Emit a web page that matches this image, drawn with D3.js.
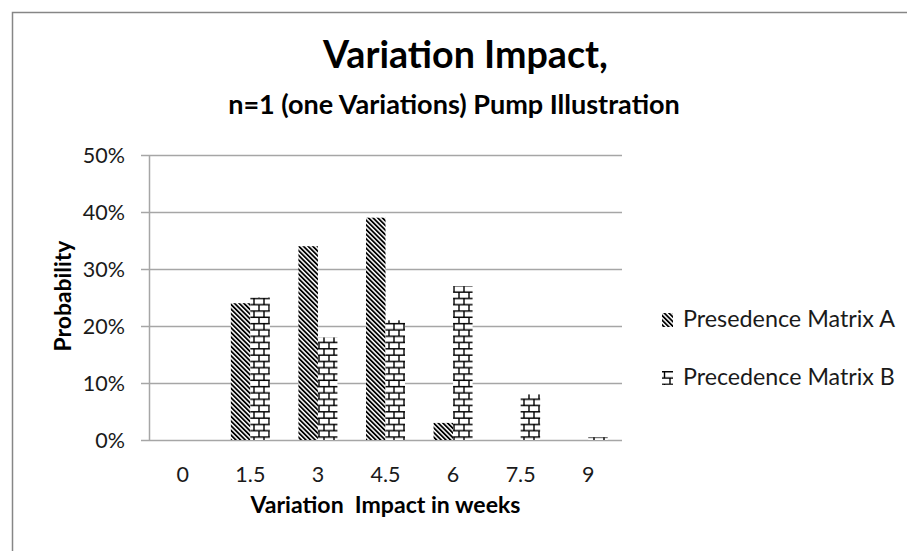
<!DOCTYPE html>
<html>
<head>
<meta charset="utf-8">
<script src="https://cdn.jsdelivr.net/npm/d3@7"></script>
<style>
  html, body { margin: 0; padding: 0; background: #fff; }
  svg { display: block; }
  text { font-family: Lato, "Open Sans", "DejaVu Sans", sans-serif; }
</style>
</head>
<body>
<svg id="chart" width="907" height="551"></svg>
<script>
const categories = ["0", "1.5", "3", "4.5", "6", "7.5", "9"];
const seriesNames = ["Presedence Matrix A", "Precedence Matrix B"];
const matrixA = [0, 0.24, 0.34, 0.39, 0.03, 0, 0];
const matrixB = [0, 0.25, 0.18, 0.21, 0.27, 0.08, 0.005];
const yTicks = [0, 0.1, 0.2, 0.3, 0.4, 0.5];
const titleText = "Variation Impact,";
const subtitleText = "n=1 (one Variations) Pump Illustration";
const xTitle = "Variation  Impact in weeks";
const yTitle = "Probability";

const svg = d3.select("#chart");
const m = { left: 149, right: 622, top: 155, bottom: 440 };

// patterns
const defs = svg.append("defs");
const pA = defs.append("pattern").attr("id", "patA").attr("patternUnits", "userSpaceOnUse")
  .attr("width", 3.3).attr("height", 3.3).attr("patternTransform", "rotate(-45)");
pA.append("rect").attr("width", 3.3).attr("height", 3.3).attr("fill", "#fff");
pA.append("rect").attr("width", 1.8).attr("height", 3.3).attr("fill", "#000");

const bw = 10, bh = 6.3;
function brickPattern(id, px, py, w, vx) {
  const p = defs.append("pattern").attr("id", id).attr("patternUnits", "userSpaceOnUse")
    .attr("width", w).attr("height", bh * 2).attr("x", px).attr("y", py);
  p.append("rect").attr("width", w).attr("height", bh * 2).attr("fill", "#fff");
  const v2 = (vx + w / 2) % w;
  p.append("path").attr("d",
    `M0,0.7H${w}M0,${bh + 0.7}H${w}M${vx},0.7V${bh + 0.7}M${v2},${bh + 0.7}V${2 * bh + 0.7}`)
    .attr("stroke", "#000").attr("stroke-width", 1.4).attr("fill", "none");
}
// bars: mortar lines at y = 437 - k*bh
brickPattern("patB", 3, 436.3 - bh * 40, bw, 1);

// frame
svg.append("rect").attr("x", 12.5).attr("y", 12.5).attr("width", 1000).attr("height", 1000)
  .attr("fill", "#fff").attr("stroke", "#868686").attr("stroke-width", 1.5);

const x0 = d3.scaleBand().domain(categories).range([m.left, m.right]).padding(0);
const groupW = 39;
const x1 = d3.scaleBand().domain(seriesNames)
  .range([(x0.bandwidth() - groupW) / 2, (x0.bandwidth() + groupW) / 2]).padding(0);
const y = d3.scaleLinear().domain([0, 0.5]).range([m.bottom, m.top]);

// gridlines
svg.append("g").selectAll("line").data(yTicks).join("line")
  .attr("x1", m.left - 8).attr("x2", m.right)
  .attr("y1", d => Math.round(y(d)) + 0.5).attr("y2", d => Math.round(y(d)) + 0.5)
  .attr("stroke", "#a6a6a6").attr("stroke-width", 1.5);

// y axis line
svg.append("line").attr("x1", m.left + 0.5).attr("x2", m.left + 0.5)
  .attr("y1", m.top).attr("y2", m.bottom).attr("stroke", "#a6a6a6").attr("stroke-width", 1.5);

// y tick labels
const yAxis = d3.axisLeft(y).tickValues(yTicks).tickFormat(d3.format(".0%")).tickSize(0).tickPadding(24);
const gy = svg.append("g").attr("transform", `translate(${m.left},0)`).call(yAxis);
gy.select(".domain").remove();
gy.selectAll("text").attr("font-size", 21.5).attr("fill", "#1a1a1a")
  .attr("font-family", "Lato, 'Open Sans', sans-serif").attr("dy", "0.36em");

// x tick labels
const xAxis = d3.axisBottom(x0).tickSize(0).tickPadding(27);
const gx = svg.append("g").attr("transform", `translate(0,${m.bottom})`).call(xAxis);
gx.select(".domain").remove();
gx.selectAll("text").attr("font-size", 21.5).attr("fill", "#1a1a1a")
  .attr("font-family", "Lato, 'Open Sans', sans-serif");

// bars
const series = [
  { name: seriesNames[0], values: matrixA, fill: "url(#patA)" },
  { name: seriesNames[1], values: matrixB, fill: "url(#patB)" }
];
series.forEach(s => {
  svg.append("g").selectAll("rect").data(categories).join("rect")
    .attr("x", (c) => x0(c) + x1(s.name))
    .attr("width", x1.bandwidth())
    .attr("y", (c, i) => y(s.values[i]))
    .attr("height", (c, i) => y(0) - y(s.values[i]))
    .attr("fill", s.fill);
});

function fit(sel, target) {
  const w = sel.node().getComputedTextLength();
  const fs = parseFloat(sel.attr("font-size"));
  sel.attr("font-size", fs * target / w);
}

// titles
const t1 = svg.append("text").attr("x", 465.5).attr("y", 68).attr("text-anchor", "middle")
  .attr("font-weight", "bold").attr("font-size", 28).attr("fill", "#000").text(titleText);
fit(t1, 285);
const t2 = svg.append("text").attr("x", 454).attr("y", 114).attr("text-anchor", "middle")
  .attr("font-weight", "bold").attr("font-size", 19).attr("fill", "#000").text(subtitleText);
fit(t2, 452);

// axis titles
const xt = svg.append("text").attr("x", 385.5).attr("y", 513).attr("text-anchor", "middle")
  .attr("font-weight", "bold").attr("font-size", 19).attr("fill", "#000")
  .attr("xml:space", "preserve").style("white-space", "pre").text(xTitle);
fit(xt, 270);
const yt = svg.append("text").attr("transform", "translate(71,296) rotate(-90)")
  .attr("text-anchor", "middle").attr("font-weight", "bold").attr("font-size", 19)
  .attr("fill", "#000").text(yTitle);
fit(yt, 111);

// legend
const legY = [327, 385];
const iconW = 11, iconH = 2 * bh + 1.4;
brickPattern("patBLeg", 662, legY[1] - iconH, iconW, 2.5);
const legFills = ["url(#patA)", "url(#patBLeg)"];
series.forEach((s, i) => {
  svg.append("rect").attr("x", 662).attr("y", legY[i] - iconH).attr("width", iconW).attr("height", iconH)
    .attr("fill", legFills[i]);
  const lt = svg.append("text").attr("x", 683).attr("y", legY[i]).attr("font-size", 21)
    .attr("fill", "#1a1a1a").text(s.name);
  fit(lt, 212);
});
</script>
</body>
</html>
